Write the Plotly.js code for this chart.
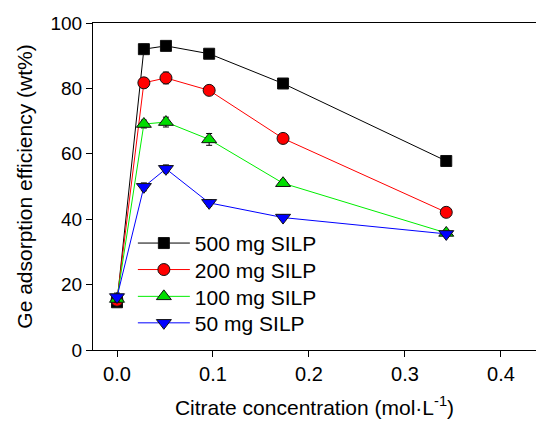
<!DOCTYPE html>
<html>
<head>
<meta charset="utf-8">
<script src="https://cdn.plot.ly/plotly-3.0.1.min.js"></script>
<style>html,body{margin:0;padding:0;background:#fff;}#chart{width:536px;height:421px;}</style>
</head>
<body>
<div id="chart"></div>
<script>
var concentration = [0.0, 0.028, 0.051, 0.096, 0.173, 0.343];
var seriesNames = ["500 mg SILP", "200 mg SILP", "100 mg SILP", "50 mg SILP"];
var eff500 = [14.6, 92.0, 93.0, 90.6, 81.5, 57.8];
var eff200 = [15.2, 81.7, 83.2, 79.4, 64.7, 42.1];
var eff100 = [15.6, 69.1, 69.7, 64.4, 51.0, 35.8];
var eff50  = [16.2, 49.9, 55.4, 45.0, 40.5, 35.5];
var err500 = [1.0, 1.5, 1.0, 0.8, 0.8, 0.8];
var err200 = [1.0, 1.5, 1.8, 1.0, 1.0, 0.8];
var err100 = [1.0, 1.2, 1.5, 1.8, 1.0, 0.8];
var err50  = [1.2, 1.2, 1.2, 1.0, 0.8, 0.8];

var lineColors = ["#000000", "#ff0000", "#00ee00", "#0000ff"];
var markerColors = ["#000000", "#ff0000", "#00dd00", "#0000ff"];
var symbols = ["square", "circle", "triangle-up", "triangle-down"];
var sizes = [11, 12, 13, 13];
var values = [eff500, eff200, eff100, eff50];
var errs = [err500, err200, err100, err50];
var legendIds = ["legend", "legend2", "legend3", "legend4"];

var traces = values.map(function (v, i) {
  return {
    x: concentration, y: v, type: "scatter", mode: "lines+markers",
    name: seriesNames[i], legend: legendIds[i],
    line: {color: lineColors[i], width: 1},
    marker: {symbol: symbols[i], size: sizes[i], color: markerColors[i], line: {color: "#111", width: 1}},
    error_y: {type: "data", array: errs[i], visible: true, color: "#000", thickness: 1, width: 3}
  };
});

var font = {family: "Liberation Sans, Arial, sans-serif", color: "#000"};
function leg(y) {
  return {x: 0.09, y: y, xanchor: "left", yanchor: "middle", bgcolor: "rgba(0,0,0,0)",
    font: {family: font.family, size: 21, color: "#000"}, itemwidth: 52, borderwidth: 0};
}
var layout = {
  width: 536, height: 421,
  margin: {l: 93, r: 0, t: 23, b: 71, pad: 0},
  paper_bgcolor: "#fff", plot_bgcolor: "#fff",
  font: font,
  showlegend: true,
  legend: leg(0.326), legend2: leg(0.245), legend3: leg(0.163), legend4: leg(0.082),
  xaxis: {
    range: [-0.025, 0.4365], tickvals: [0, 0.1, 0.2, 0.3, 0.4], ticktext: ["0.0", "0.1", "0.2", "0.3", "0.4"],
    showgrid: false, zeroline: false, showline: true, linecolor: "#000", linewidth: 1, mirror: true,
    ticks: "outside", ticklen: 6, tickcolor: "#000", tickfont: {size: 20},
    title: {text: "Citrate concentration (mol·L<sup>-1</sup>)", font: {size: 21}, standoff: 16}
  },
  yaxis: {
    range: [0, 100], tickvals: [0, 20, 40, 60, 80, 100],
    showgrid: false, zeroline: false, showline: true, linecolor: "#000", linewidth: 1,
    ticks: "outside", ticklen: 6, tickcolor: "#000", tickfont: {size: 19},
    title: {text: "Ge adsorption efficiency (wt%)", font: {size: 21}, standoff: 12}
  }
};
Plotly.newPlot("chart", traces, layout, {displayModeBar: false, staticPlot: true});
</script>
</body>
</html>
